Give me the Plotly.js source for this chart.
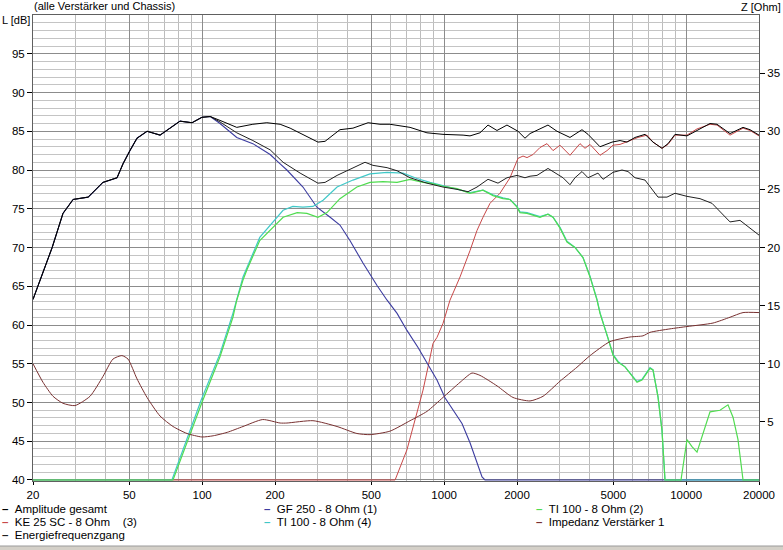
<!DOCTYPE html>
<html><head><meta charset="utf-8">
<script src="https://cdn.plot.ly/plotly-3.0.1.min.js"></script>
<style>html,body{margin:0;padding:0;background:#fff;}#chart{width:783px;height:550px;}</style>
</head><body><div id="chart"></div>
<script>
// ---- data (frequency in Hz, level in dB, impedance in Ohm) ----
const ampF = [20,22,24,26.6,29.3,33.8,38.9,44.5,47.1,50.3,53.8,59.2,67,81,90.8,99.8,108,118.5,139,162,185,210,231,301,322,371,420,485,543,597,723,849,989,1197,1279,1406,1518,1653,1818,2019,2158,2264,2419,2686,2926,3311,3712,3931,4406,4939,5330,5696,6148,6760,7295,7946,8414,8994,10080,11090,12550,13410,15180,17180,18360,20000];
const ampDb = [63.3,66.7,70.0,74.4,76.2,76.5,78.4,79.0,80.8,82.5,84.1,85.0,84.5,86.3,86.1,86.8,86.9,86.4,85.5,85.9,86.1,85.9,85.4,83.6,83.7,85.2,85.4,86.1,85.9,85.9,85.5,84.8,84.6,84.5,84.4,84.8,85.8,85.1,85.8,85.0,84.1,84.7,85.1,85.8,85.0,84.2,85.2,84.6,83.0,83.6,83.8,83.6,84.2,84.6,83.6,82.8,83.4,84.6,84.4,85.1,86.0,85.9,84.7,85.5,85.2,84.5];

const gfF = [20,22,24,26.6,29.3,33.8,38.9,44.5,47.1,50.3,53.8,59.2,67,81,90.8,99.8,108,118.5,139,162,191,210,224,261,298,338,371,408,462,528,581,639,702,780,849,934,1008,1088,1185,1279,1367,1434,1475,20000];
const gfDb = [63.3,66.7,70.0,74.4,76.2,76.5,78.4,79.0,80.8,82.5,84.1,85.0,84.5,86.3,86.1,86.8,86.9,86.0,84.2,83.4,82.0,80.8,80.0,77.8,75.2,73.9,72.9,70.9,68.0,65.1,63.2,61.5,59.3,57.1,55.1,52.9,50.6,49.0,47.3,44.8,42.2,40.4,40,40];

const enF = [20,22,24,26.6,29.3,33.8,38.9,44.5,47.1,50.3,53.8,59.2,67,81,90.8,99.8,108,118.5,139,162,191,216,254,301,322,361,408,471,508,581,639,723,849,989,1130,1255,1367,1518,1669,1818,2000,2158,2264,2419,2686,2871,3099,3311,3472,3712,3931,4322,4534,4988,5433,5751,6148,6760,7650,8333,8994,10080,11410,12790,14070,15180,16690,18010,20000];
const enDb = [63.3,66.7,70.0,74.4,76.2,76.5,78.4,79.0,80.8,82.5,84.1,85.0,84.5,86.3,86.1,86.8,86.9,86.2,84.8,83.8,82.6,81.0,79.6,78.3,78.4,79.3,80.1,81.0,80.6,80.3,79.9,79.0,78.3,77.8,77.5,77.2,77.8,78.8,78.3,79.0,79.3,79.0,79.2,79.3,80.2,79.6,79.0,78.1,79.0,79.8,79.0,79.6,78.8,79.7,80.0,79.8,79.0,78.7,76.5,76.5,77.0,76.6,76.3,75.7,74.4,73.3,73.5,72.7,71.6];

const ti2F = [20,75.8,99.8,118.5,134,139,147.5,153,173,191,210,216,247,271,301,328,371,436,494,559,639,723,818,874,989,1130,1279,1447,1592,1750,1871,2000,2057,2200,2489,2686,2817,3012,3218,3472,3748,4007,4282,4406,4754,4988,5230,5590,6265,6570,7090,7295,7650,7946,8177,9522,10080,10570,11090,11630,12550,13800,14890,15620,16380,17180,20000];
const ti2Db = [40,40,50.0,55.9,61.0,63.2,65.8,67.1,70.9,72.2,73.5,73.9,74.5,74.4,73.9,74.5,76.3,77.8,78.4,78.5,78.4,78.8,78.4,78.3,77.9,77.6,77.0,77.4,76.7,76.3,76.2,75.2,74.5,74.4,73.9,74.3,73.9,72.5,70.7,70.0,68.7,66.2,63.2,61.5,58.3,56.1,55.2,54.6,52.6,52.9,54.4,54.2,50.7,46.4,40,40,45.2,44.3,43.6,45.5,48.8,49.0,49.7,48.1,45.2,40,40];

const ti4F = [20,75,99,118.5,134,147.5,173,191,216,237,261,287,316,361,420,494,581,676,772,874,989,1130,1279,1447,1592,1750,1871,2000,2057,2200,2489,2686,2817,3012,3218,3472,3748,4007,4282,4406,4754,4988,5230,5590,6265,6570,7090,7295,7650,7946,8177,20000];
const ti4Db = [40,40,50.3,56.3,61.5,66.2,71.3,72.9,74.8,75.3,75.2,75.3,76.1,77.8,78.7,79.5,79.7,79.6,78.9,78.4,78.0,77.6,77.1,77.4,76.8,76.4,76.2,75.3,74.6,74.5,74.0,74.3,73.9,72.6,70.8,70.0,68.7,66.3,63.3,61.6,58.4,56.2,55.3,54.6,52.7,53.0,54.5,54.2,50.8,46.4,40,40];

const keF = [20,627,702,758,818,858,899,934,989,1057,1163,1279,1367,1447,1547,1701,1871,2019,2118,2200,2329,2489,2661,2817,3012,3311,3642,3820,4007,4406,4710,4988,5330,5862,6325,6891,7295,7946,8414,8994,10080,11090,12550,13410,15180,17180,18360,20000];
const keDb = [40,40,43.9,47.7,51.6,54.6,57.6,58.4,60.2,63.2,66.2,69.6,72.2,73.9,75.7,77.0,79.0,81.5,81.8,81.6,82.0,82.9,83.4,82.5,83.2,81.9,83.4,82.8,83.3,81.9,82.5,83.2,83.3,83.8,84.2,84.5,83.6,82.8,83.3,84.5,84.5,85.3,85.9,85.8,84.5,85.4,85.1,84.4];

const zF = [20,22,24.2,26.6,29.8,34.4,38.9,42.8,46.6,49.4,53.8,59.2,67,75.8,86.6,99.8,111,127,147.5,178,210,224,287,361,436,494,597,723,849,989,1163,1303,1406,1653,1925,2264,2562,3012,3539,4007,4845,5862,6632,7090,8576,10080,12910,15180,17180,20000];
const zOhm = [10.0,8.4,7.2,6.6,6.4,7.2,8.9,10.4,10.7,10.4,8.7,7.1,5.5,4.6,4.0,3.7,3.8,4.1,4.6,5.2,4.9,4.9,5.1,4.6,4.0,3.9,4.2,5.1,5.9,7.1,8.4,9.2,9.0,8.1,7.1,6.8,7.2,8.5,9.7,10.7,11.9,12.3,12.4,12.7,13.0,13.2,13.5,14.0,14.4,14.4];

const xTicks = [20,50,100,200,500,1000,2000,5000,10000,20000];
const xMinor = [30,40,60,70,80,90,300,400,600,700,800,900,3000,4000,6000,7000,8000,9000];
const yTicks = [40,45,50,55,60,65,70,75,80,85,90,95];
const zTicks = [5,10,15,20,25,30,35];

const names = ["Amplitude gesamt","GF 250 - 8 Ohm (1)","TI 100 - 8 Ohm (2)","KE 25 SC - 8 Ohm\u00a0\u00a0\u00a0\u00a0(3)","TI 100 - 8 Ohm (4)","Impedanz Verstärker 1","Energiefrequenzgang"];
const colors = ["#000000","#3c3ca0","#50dc50","#c84848","#40c8c8","#783030","#202020"];

// ---- geometry helpers (pixel -> paper) ----
const PL = 33, PW = 726, PB = 481, PH = 466;
const px = v => (v - PL) / PW;
const py = v => (PB - v) / PH;

// ---- traces ----
const FONT = "Liberation Sans, Arial, sans-serif";
function tr(x, y, i, axis, w){
  return {x:x, y:y, type:"scatter", mode:"lines", name:names[i], yaxis:axis||"y",
          line:{color:colors[i], width:w||1}, showlegend:false, hoverinfo:"x+y+name"};
}
const traces = [
  Object.assign(tr(zF, zOhm, 5, "y2"), {line:{color:colors[5], width:1, shape:"spline", smoothing:0.6}}),
  tr(keF, keDb, 3),
  tr(gfF, gfDb, 1, "y", 1.1),
  tr(ti4F, ti4Db, 4, "y", 1.2),
  tr(ti2F, ti2Db, 2, "y", 1.2),
  tr(enF, enDb, 6),
  tr(ampF, ampDb, 0)
];

// ---- legend as annotations (3 columns) ----
const legendPos = [[0,0],[1,0],[2,0],[0,1],[1,1],[2,1],[0,2]];
const colX = [0, 262, 534];
const rowY = [509, 522, 535];
const annotations = names.map((n,i)=>({
  xref:"paper", yref:"paper", xanchor:"left", yanchor:"middle", showarrow:false,
  x:px(colX[legendPos[i][0]]), y:py(rowY[legendPos[i][1]]),
  text:'<span style="color:'+colors[i]+'"><b>\u2013</b></span>\u00a0\u00a0'+n,
  font:{family:FONT, size:11.5, color:"#000"}
}));
annotations.push(
  {xref:"paper", yref:"paper", x:px(32), y:py(6), xanchor:"left", yanchor:"middle", showarrow:false,
   text:"(alle Verstärker und Chassis)", font:{family:FONT, size:11, color:"#000"}},
  {xref:"paper", yref:"paper", x:px(0), y:py(20), xanchor:"left", yanchor:"middle", showarrow:false,
   text:"L [dB]", font:{family:FONT, size:11, color:"#000"}},
  {xref:"paper", yref:"paper", x:px(783), y:py(7), xanchor:"right", yanchor:"middle", showarrow:false,
   text:"Z [Ohm]", font:{family:FONT, size:11, color:"#000"}}
);

const layout = {
  width:783, height:550,
  margin:{l:33, r:24, t:15, b:69, pad:0},
  paper_bgcolor:"#ffffff", plot_bgcolor:"#ffffff",
  font:{family:FONT, size:11, color:"#000"},
  showlegend:false,
  xaxis:{type:"log", range:[Math.log10(20), Math.log10(20000)], tickmode:"array",
         tickvals:xTicks, ticktext:xTicks.map(String), ticks:"outside", ticklen:3, tickcolor:"#000",
         showgrid:true, gridcolor:"#8c8c8c", gridwidth:1,
         minor:{tickmode:"array", tickvals:xMinor, showgrid:true, gridcolor:"#bcbcbc", ticks:""},
         showline:true, linecolor:"#606060", mirror:true, zeroline:false, layer:"below traces",
         tickfont:{family:FONT, size:11.5}},
  yaxis:{range:[39.87,100], tickmode:"array", tickvals:yTicks, ticktext:yTicks.map(String),
         ticks:"outside", ticklen:5, tickcolor:"#000",
         showgrid:true, gridcolor:"#8c8c8c", gridwidth:1,
         minor:{tickmode:"linear", tick0:0, dtick:1, showgrid:true, gridcolor:"#c4c4c4", ticks:""},
         showline:true, linecolor:"#606060", mirror:false, zeroline:false, layer:"below traces",
         tickfont:{family:FONT, size:11.5}},
  yaxis2:{range:[-0.087,40], overlaying:"y", side:"right", tickmode:"array", tickvals:zTicks,
          ticktext:zTicks.map(String), ticks:"outside", ticklen:5, tickcolor:"#000",
          showgrid:false, showline:true, linecolor:"#606060", zeroline:false,
          tickfont:{family:FONT, size:11.5}},
  annotations:annotations,
  shapes:[
    {type:"rect", xref:"paper", yref:"paper", x0:-0.1, x1:1.1, y0:py(551), y1:py(546),
     fillcolor:"#d4d0c8", line:{width:0}, layer:"above"},
    {type:"line", xref:"paper", yref:"paper", x0:-0.1, x1:1.1, y0:py(546), y1:py(546),
     line:{color:"#9a9a9a", width:1}}
  ]
};

Plotly.newPlot("chart", traces, layout, {displayModeBar:false, staticPlot:true});
</script>
</body></html>
